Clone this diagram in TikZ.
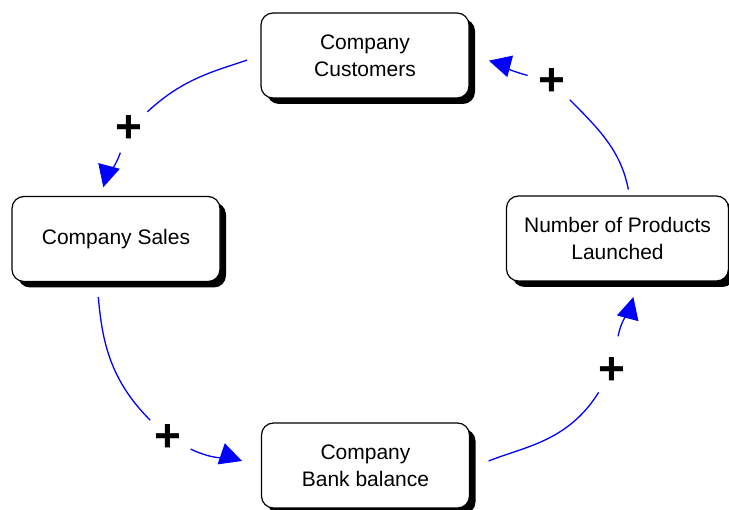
\documentclass[tikz,border=0pt]{standalone}
\usepackage{fontspec}
\setmainfont{Liberation Sans}
\usetikzlibrary{arrows.meta}
\usetikzlibrary{shadows}
\usetikzlibrary{positioning}
\tikzset{box/.style = {draw, line width=1.2pt, fill=white, rounded corners=12pt, align=center,
                       minimum width=208, minimum height=85,
                       font=\fontsize{21}{27}\selectfont,
                       drop shadow={shadow xshift=6pt, shadow yshift=-6pt,
                                    fill=black, opacity=1}}}
\tikzset{plus/.style = {circle, inner sep=0, minimum size=50,
                        font=\fontsize{46}{46}\selectfont\bfseries}}
\definecolor{lblue}{rgb}{0, 0, 1}
\tikzset{link/.style = {lblue, line width=1.3pt}}
\tikzset{tip/.style = {-{Triangle[length=22pt, width=22pt]}}}

\begin{document}
\begin{tikzpicture}[x=1pt, y=1pt]
      \useasboundingbox (0, 0) rectangle (729, 510);

      \node [box] (cust) at (365, 454.5) {Company\\Customers};
      \node [box] (sales) at (116, 271) {Company Sales};
      \node [box, minimum width=222] (prod) at (617.5, 271.5) {Number of Products\\Launched};
      \node [box] (bank) at (365.5, 44.5) {Company\\Bank balance};

      \node [plus] (p1) at (129, 381) {+};
      \node [plus] (p2) at (168, 72) {+};
      \node [plus] (p3) at (612, 139) {+};
      \node [plus] (p4) at (552, 428) {+};

      \draw [link, shorten <=14pt] (cust.west) to [out=199, in=43] (p1);
      \draw [link, tip, shorten >=9pt] (p1) to [out=250, in=75] ([xshift=-15pt]sales.north);

      \draw [link, shorten <=15pt] ([xshift=-19pt]sales.south) to [out=275, in=135] (p2);
      \draw [link, tip, shorten >=20pt] (p2) to [out=334, in=161] ([yshift=-2pt]bank.west);

      \draw [link, shorten <=20pt] ([yshift=-3pt]bank.east) to [out=22, in=238] (p3);
      \draw [link, tip, shorten <=10pt, shorten >=16pt] (p3) to [out=80, in=255] ([xshift=20pt]prod.south);

      \draw [link, shorten <=6pt] ([xshift=12pt]prod.north) to [out=101, in=315] (p4);
      \draw [link, tip, shorten >=20pt] (p4) to [out=165, in=345] (cust.east);
\end{tikzpicture}
\end{document}
